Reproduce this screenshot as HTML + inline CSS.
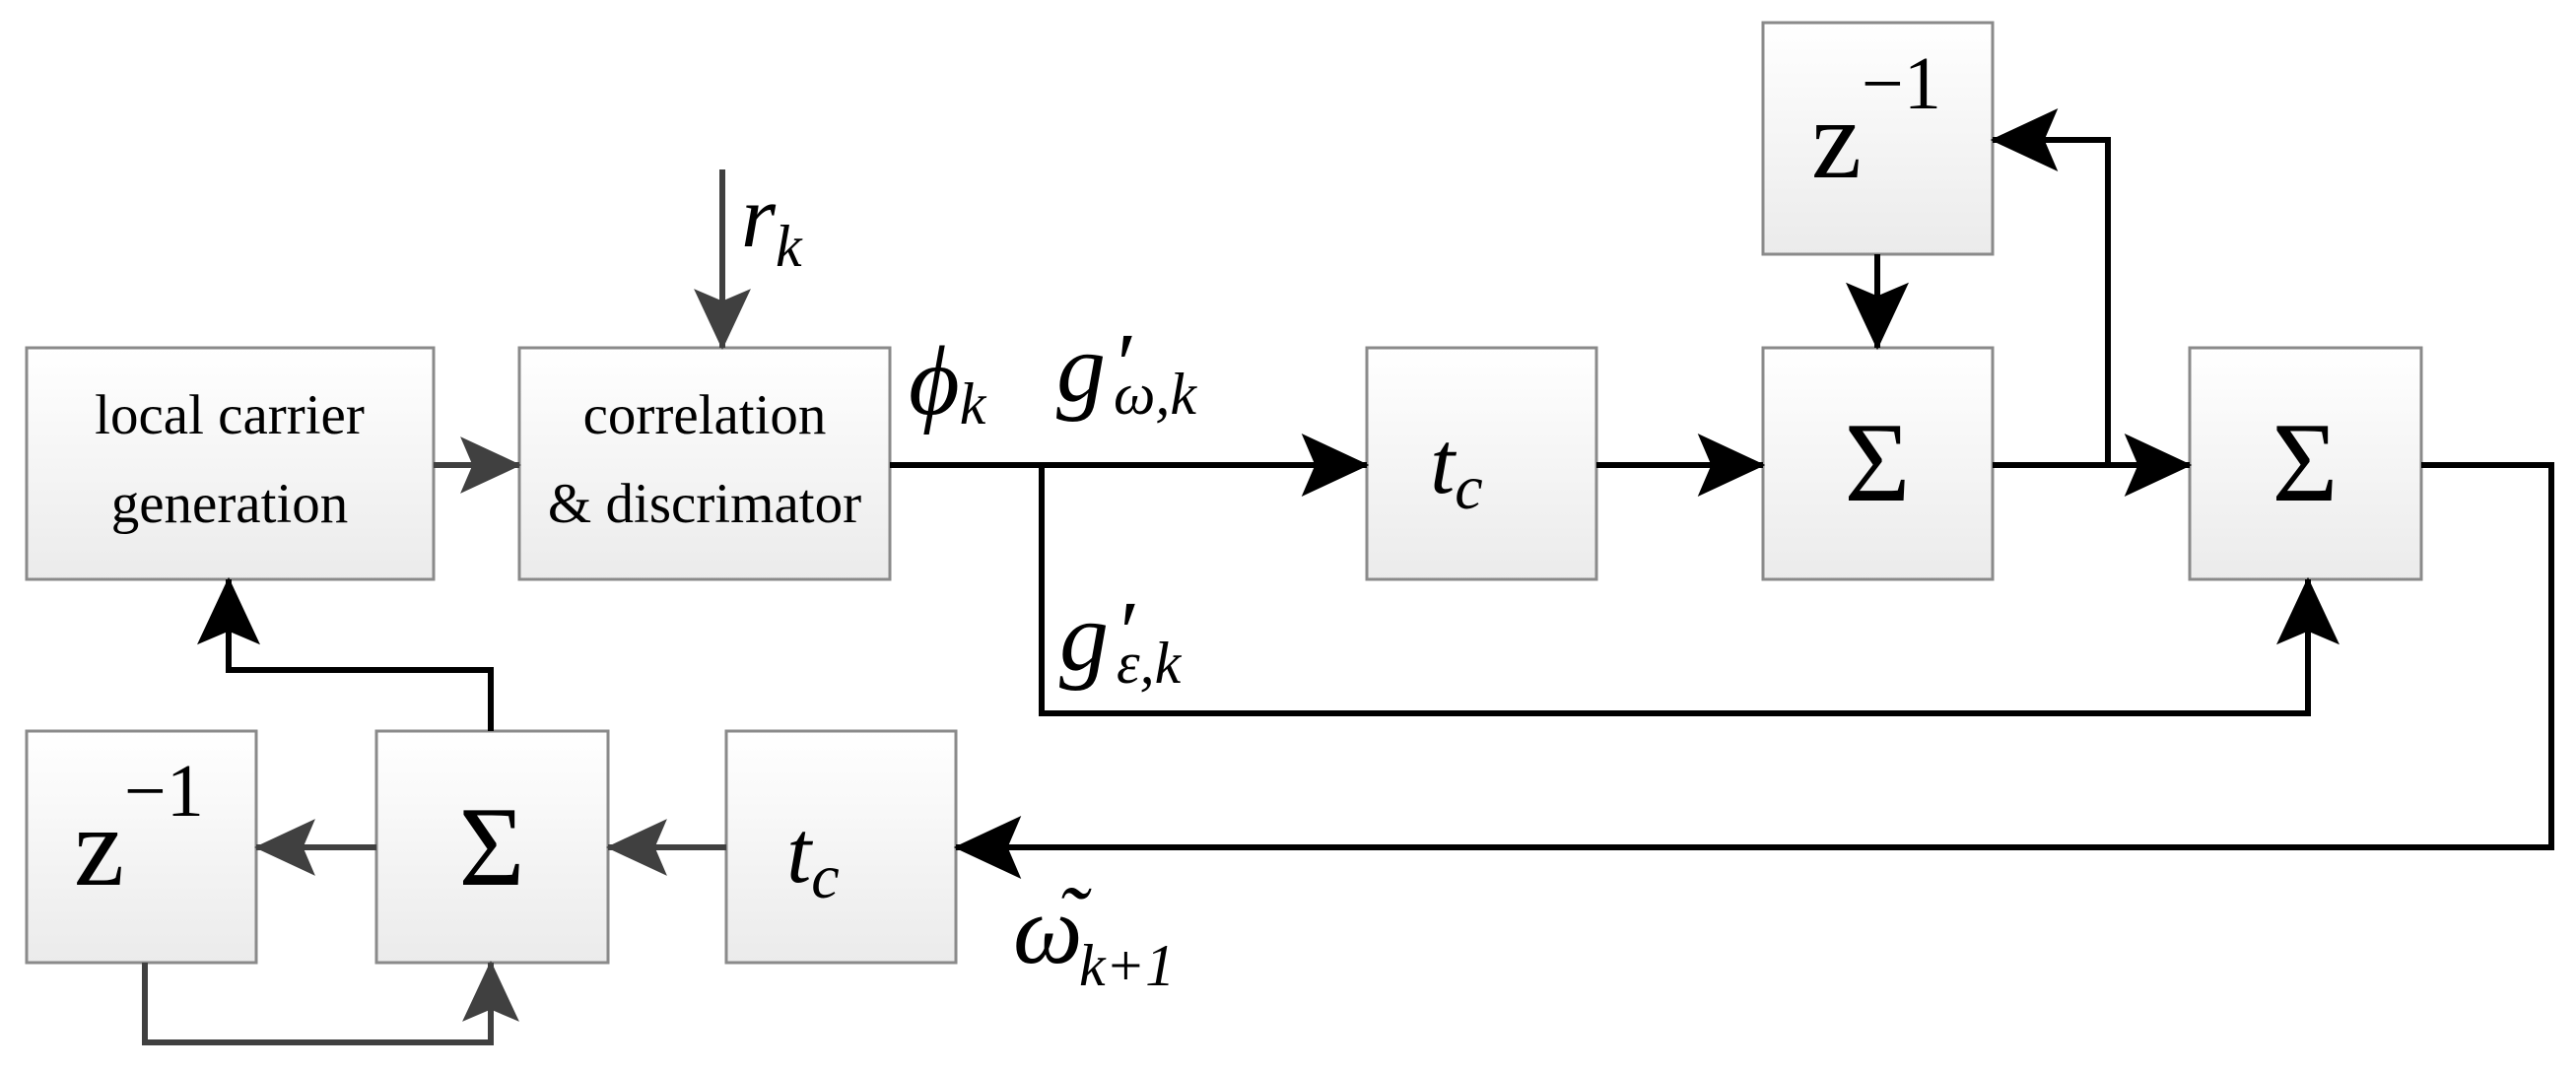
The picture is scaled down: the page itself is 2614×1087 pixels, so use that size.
<!DOCTYPE html>
<html><head><meta charset="utf-8"><style>
html,body{margin:0;padding:0;background:#fff;}
svg{display:block;}
</style></head><body>
<svg width="2614" height="1087" viewBox="0 0 2614 1087" xmlns="http://www.w3.org/2000/svg">
<defs>
<linearGradient id="g" x1="0" y1="0" x2="0" y2="1">
<stop offset="0" stop-color="#ffffff"/><stop offset="1" stop-color="#ebebeb"/>
</linearGradient>
<marker id="ab" viewBox="0 0 60 56" refX="58" refY="28" markerWidth="70" markerHeight="64" markerUnits="userSpaceOnUse" orient="auto">
<path d="M0 0 L60 28 L0 56 L12 28 Z" fill="#000"/></marker>
<marker id="ag" viewBox="0 0 60 56" refX="58" refY="28" markerWidth="62" markerHeight="58" markerUnits="userSpaceOnUse" orient="auto">
<path d="M0 0 L60 28 L0 56 L12 28 Z" fill="#404040"/></marker>
</defs>
<g stroke="#8a8a8a" stroke-width="3" fill="url(#g)">
<rect x="27" y="353" width="413" height="235"/>
<rect x="527" y="353" width="376" height="235"/>
<rect x="1387" y="353" width="233" height="235"/>
<rect x="1789" y="353" width="233" height="235"/>
<rect x="2222" y="353" width="235" height="235"/>
<rect x="1789" y="23" width="233" height="235"/>
<rect x="27" y="742" width="233" height="235"/>
<rect x="382" y="742" width="235" height="235"/>
<rect x="737" y="742" width="233" height="235"/>
</g>
<g fill="none" stroke-width="6" stroke-linejoin="miter">
<path d="M733 172 V353" stroke="#404040" marker-end="url(#ag)"/>
<path d="M440 472 H527" stroke="#404040" marker-end="url(#ag)"/>
<path d="M903 472 H1387" stroke="#000" marker-end="url(#ab)"/>
<path d="M1057 472 V724 H2342 V588" stroke="#000" marker-end="url(#ab)"/>
<path d="M1620 472 H1789" stroke="#000" marker-end="url(#ab)"/>
<path d="M2022 472 H2222" stroke="#000" marker-end="url(#ab)"/>
<path d="M2139 472 V142 H2022" stroke="#000" marker-end="url(#ab)"/>
<path d="M1905 258 V353" stroke="#000" marker-end="url(#ab)"/>
<path d="M2457 472 H2589 V860 H970" stroke="#000" marker-end="url(#ab)"/>
<path d="M737 860 H617" stroke="#404040" marker-end="url(#ag)"/>
<path d="M382 860 H260" stroke="#404040" marker-end="url(#ag)"/>
<path d="M498 742 V680 H232 V588" stroke="#000" marker-end="url(#ab)"/>
<path d="M147 977 V1058 H498 V977" stroke="#404040" marker-end="url(#ag)"/>
</g>
<g fill="#000" font-family="Liberation Serif, DejaVu Serif, serif">
<text x="233" y="440" font-size="57" text-anchor="middle">local carrier</text>
<text x="233" y="530" font-size="57" text-anchor="middle">generation</text>
<text x="715" y="440" font-size="57" text-anchor="middle">correlation</text>
<text x="715" y="530" font-size="57" text-anchor="middle">&amp; discrimator</text>
<text x="1478" y="500" font-size="90" font-style="italic" text-anchor="middle">t<tspan font-size="64" dy="16">c</tspan></text>
<text x="1905" y="508" font-size="115" text-anchor="middle">Σ</text>
<text x="2339" y="508" font-size="115" text-anchor="middle">Σ</text>
<text x="1838" y="180" font-size="115">z<tspan font-size="76" dy="-70">−1</tspan></text>
<text x="75" y="898" font-size="115">z<tspan font-size="76" dy="-70">−1</tspan></text>
<text x="499" y="898" font-size="115" text-anchor="middle">Σ</text>
<text x="825" y="895" font-size="90" font-style="italic" text-anchor="middle">t<tspan font-size="64" dy="16">c</tspan></text>
<text x="752" y="250" font-size="90" font-style="italic">r<tspan font-size="60" dy="20">k</tspan></text>
<text x="922" y="420" font-size="100" font-style="italic">ϕ<tspan font-size="60" dy="10">k</tspan></text>
<text x="1072" y="407" font-size="100" font-style="italic">g</text>
<text x="1128" y="400" font-size="90" font-style="italic">′</text>
<text x="1130" y="420" font-size="60" font-style="italic">ω,k</text>
<text x="1075" y="680" font-size="100" font-style="italic">g</text>
<text x="1131" y="672" font-size="90" font-style="italic">′</text>
<text x="1133" y="693" font-size="60" font-style="italic">ε,k</text>
<text x="1028" y="977" font-size="100" font-style="italic">ω</text>
<text x="1072" y="962" font-size="90" font-style="italic">˜</text>
<text x="1095" y="1000" font-size="60" font-style="italic">k+1</text>
</g>
</svg>
</body></html>
